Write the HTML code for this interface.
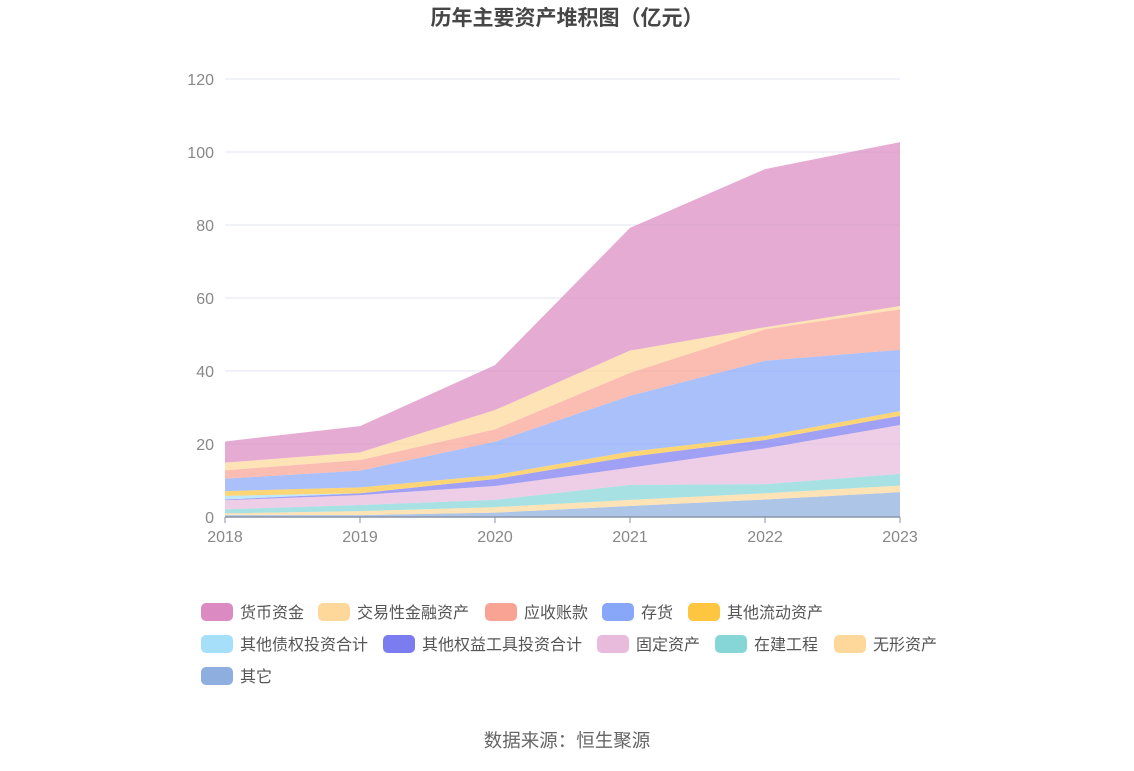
<!DOCTYPE html>
<html><head><meta charset="utf-8"><style>
body{margin:0;background:#fff;width:1134px;height:766px;overflow:hidden;font-family:"Liberation Sans","Noto Sans CJK SC",sans-serif;}
</style></head><body>
<svg id="chart" width="1134" height="766" xmlns="http://www.w3.org/2000/svg" style="font-family:'Liberation Sans','Noto Sans CJK SC',sans-serif">
<text x="567" y="25" text-anchor="middle" font-size="21" font-weight="bold" fill="#464646">历年主要资产堆积图（亿元）</text>
<g id="grid"></g><g id="areas"></g><g id="axes"></g><g id="legend"></g>
<text x="567" y="747" text-anchor="middle" font-size="18.5" fill="#666">数据来源：恒生聚源</text>
</svg>
<script>
const years=["2018","2019","2020","2021","2022","2023"];
const yTicks=[0,20,40,60,80,100,120];
const seriesNames=["其它","无形资产","在建工程","固定资产","其他权益工具投资合计","其他债权投资合计","其他流动资产","存货","应收账款","交易性金融资产","货币资金"];
const qita=[0.5,0.5,1.2,3.0,4.8,6.8];
const wuxing=[0.5,1.1,1.5,1.7,1.7,1.8];
const zaijian=[1.1,1.7,2.0,4.1,2.5,3.2];
const guding=[2.5,2.7,3.8,4.7,9.8,13.4];
const quanyi=[0.2,0.5,1.9,3.0,2.3,2.5];
const zhaiquan=[1.0,0,0,0,0,0];
const liudong=[1.3,1.6,1.1,1.4,1.1,1.3];
const cunhuo=[3.4,4.6,9.1,15.3,20.6,16.8];
const yingshou=[2.3,2.9,3.4,6.3,8.6,11.1];
const jiaoyi=[2.1,2.1,5.3,6.1,0.6,0.9];
const huobi=[5.8,7.2,12.3,33.6,43.3,44.9];
const seriesData=[qita,wuxing,zaijian,guding,quanyi,zhaiquan,liudong,cunhuo,yingshou,jiaoyi,huobi];
const colors=["#8daede","#fdd89a","#86d6d8","#e8bbdc","#7b7cf0","#a5dff9","#fdc540","#88a7f9","#f9a394","#fdd89a","#db8bc1"];
const X0=225,X1=900,Y0=517,Y1=79,YMAX=120;
const xs=i=>X0+(X1-X0)*i/(years.length-1);
const ys=v=>Y0-(Y0-Y1)*v/YMAX;
const NS="http://www.w3.org/2000/svg";
function mk(tag,attrs,parent){const e=document.createElementNS(NS,tag);for(const k in attrs)e.setAttribute(k,attrs[k]);parent.appendChild(e);return e;}
const grid=document.getElementById('grid'),axes=document.getElementById('axes'),areas=document.getElementById('areas'),legend=document.getElementById('legend');
yTicks.forEach(t=>{
 if(t>0){const l=mk('line',{x1:X0,x2:X1,y1:ys(t),y2:ys(t),stroke:'#e3e6f3','stroke-width':1},grid);
 
 }
 const tx=mk('text',{x:214,y:ys(t)+6,'text-anchor':'end','font-size':16,fill:'#888'},axes);tx.textContent=t;
 
 
});
let base=years.map(()=>0);
seriesData.forEach((d,s)=>{
 const top=base.map((b,i)=>b+d[i]);
 let p='';top.forEach((v,i)=>p+=(i?'L':'M')+xs(i)+','+ys(v));
 for(let i=years.length-1;i>=0;i--)p+='L'+xs(i)+','+ys(base[i]);
 const a=mk('path',{d:p+'Z',fill:colors[s],'fill-opacity':0.72,stroke:'none'},areas);
 
 
 base=top;
});
const ax=mk('line',{x1:X0,x2:X1,y1:Y0,y2:Y0,stroke:'#8a93a8','stroke-width':1.5},axes);


years.forEach((y,i)=>{
 const tk=mk('line',{x1:xs(i),x2:xs(i),y1:Y0,y2:Y0+6,stroke:'#8a93a8'},axes);
 
 
 const t=mk('text',{x:xs(i),y:Y0+25,'text-anchor':'middle','font-size':16,fill:'#888'},axes);t.textContent=y;
 
 
});
const legOrder=[10,9,8,7,6,5,4,3,2,1,0];
const legPos=[[201,603],[318,603],[485,603],[602,603],[688,603],[201,635],[383,635],[597,635],[715,635],[834,635],[201,667]];
legOrder.forEach((s,k)=>{
 const [lx,ly]=legPos[k];
 const g=mk('g',{},legend);
 
 
 mk('rect',{x:lx,y:ly,width:32,height:18,rx:5,fill:colors[s]},g);
 const t=mk('text',{x:lx+39,y:ly+15,'font-size':16,fill:'#555'},g);t.textContent=seriesNames[s];
});
</script>
</body></html>
